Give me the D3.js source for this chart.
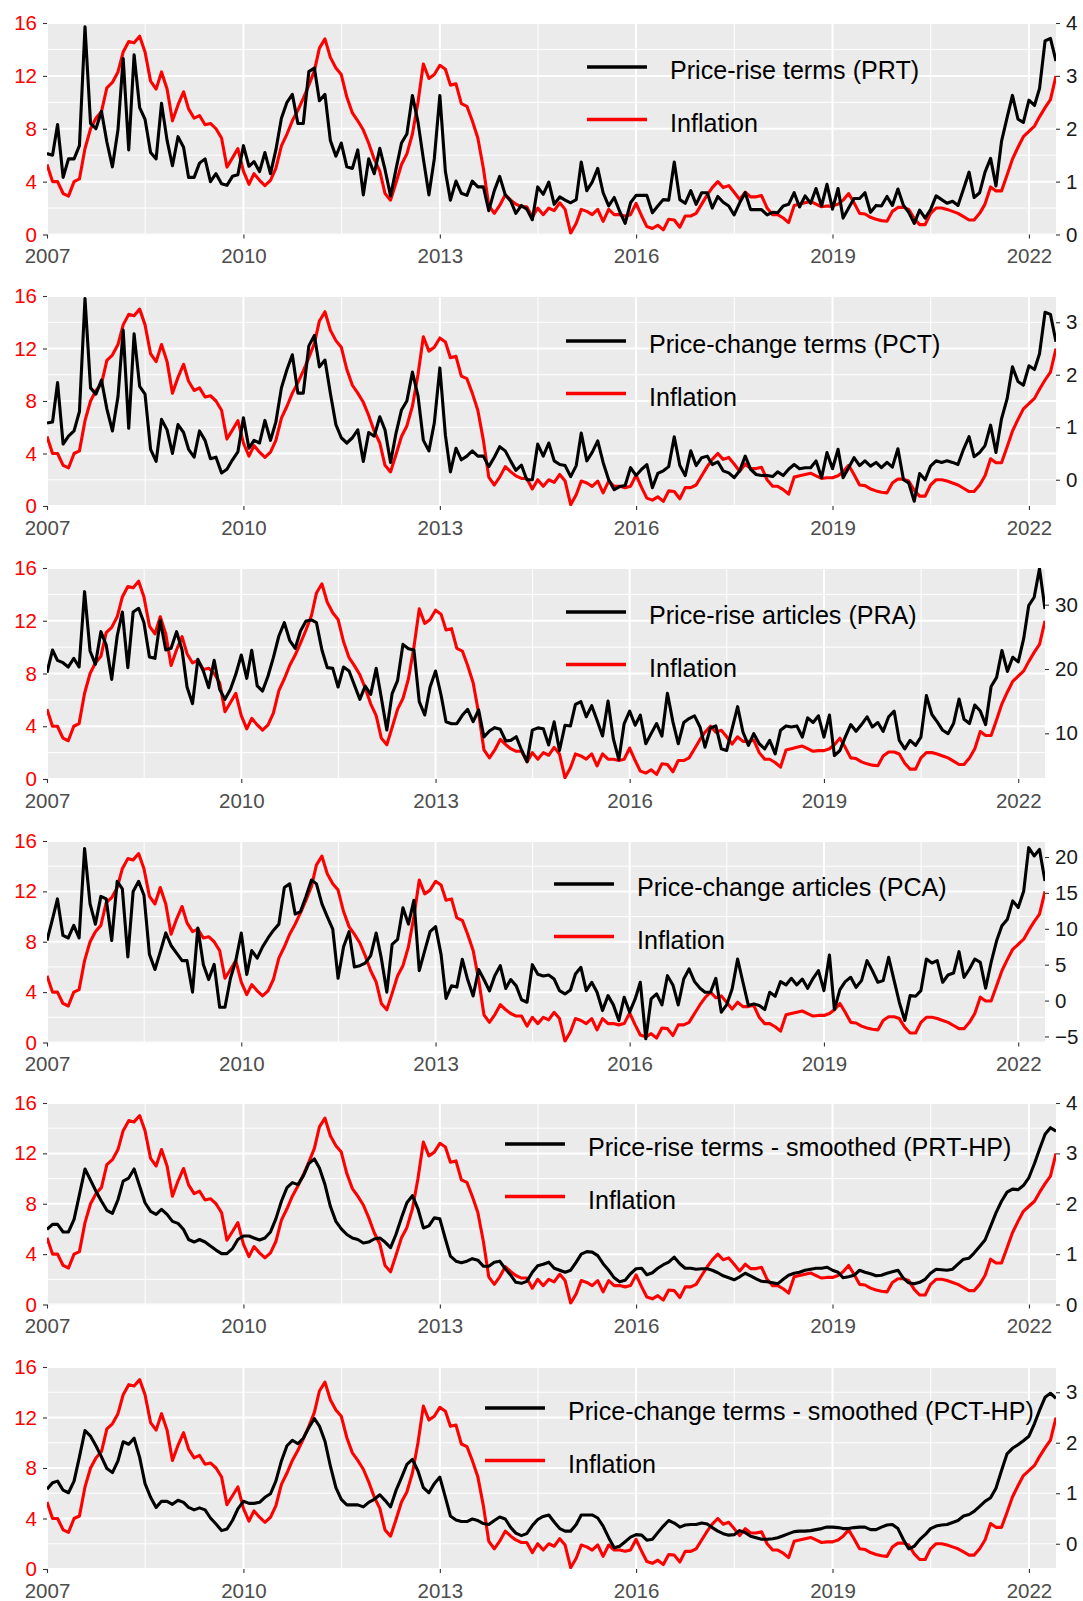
<!DOCTYPE html>
<html>
<head>
<meta charset="utf-8">
<script src="https://cdn.jsdelivr.net/npm/d3@7"></script>
<style>
  body { margin: 0; background: #ffffff; }
  svg { display: block; font-family: "Liberation Sans", Arial, Helvetica, sans-serif; }
</style>
</head>
<body>
<svg id="chart" width="1083" height="1601"></svg>
<script>
// Monthly observations, January 2007 to June 2022
const startMonth = new Date(2007, 0, 1);
const yearTicks = [2007, 2010, 2013, 2016, 2019, 2022];
const leftTicks = [0, 4, 8, 12, 16];
const leftMinor = [2, 6, 10, 14];

// Inflation (left axis, %)
const inflation = [
  5.3, 4.0, 4.0, 3.1, 2.9, 4.0, 4.2, 6.5, 8.0, 8.8,
  9.3, 11.1, 11.5, 12.3, 13.8, 14.6, 14.5, 15.0, 13.8, 11.6,
  11.0, 12.3, 11.0, 8.6, 9.8, 10.8, 9.5, 8.8, 9.0, 8.3,
  8.4, 8.0, 7.3, 5.1, 5.8, 6.5, 4.8, 3.8, 4.6, 4.1,
  3.7, 4.1, 5.0, 6.7, 7.6, 8.6, 9.4, 10.3, 11.3, 12.4,
  14.1, 14.8, 13.4, 12.6, 12.1, 10.4, 9.2, 8.6, 7.9, 6.9,
  5.7, 4.8, 3.1, 2.6, 3.9, 5.3, 6.1, 7.6, 10.0, 12.9,
  11.8, 12.1, 12.8, 12.5, 11.3, 11.4, 9.9, 9.7, 8.6, 7.3,
  5.0, 2.2, 1.6, 2.2, 3.0, 2.6, 2.3, 2.1, 2.1, 1.3,
  2.0, 1.5, 2.0, 1.8, 2.4, 1.9, 0.1, 0.85, 1.9, 1.75,
  1.5, 1.9, 1.0, 1.9, 1.5, 1.5, 1.4, 1.5, 2.35, 1.4,
  0.6, 0.45, 0.7, 0.35, 1.15, 1.1, 0.55, 1.4, 1.4, 1.6,
  2.3, 3.0, 3.55, 4.0, 3.55, 3.7, 3.2, 2.65, 3.2, 2.85,
  2.85, 2.95, 2.0, 1.5, 1.5, 1.25, 0.9, 2.2, 2.3, 2.4,
  2.5, 2.3, 2.1, 2.15, 2.15, 2.3, 2.6, 3.1, 2.4, 1.6,
  1.55, 1.3, 1.15, 1.05, 1.0, 1.75, 2.05, 2.05, 1.9, 1.2,
  0.75, 0.75, 1.6, 2.0, 2.0, 1.9, 1.75, 1.6, 1.35, 1.1,
  1.1, 1.6, 2.3, 3.6, 3.3, 3.3, 4.5, 5.7, 6.6, 7.4,
  7.8, 8.2, 8.9, 9.6, 10.2, 12.0
];

// Price-rise terms (PRT)
const prt = [
  1.53, 1.5, 2.08, 1.08, 1.43, 1.43, 1.68, 3.93, 2.1, 2.0,
  2.33, 1.75, 1.28, 1.98, 3.33, 1.6, 3.4, 2.4, 2.18, 1.55,
  1.43, 2.48, 1.78, 1.3, 1.85, 1.65, 1.08, 1.08, 1.35, 1.43,
  1.0, 1.15, 0.96, 0.93, 1.1, 1.13, 1.68, 1.29, 1.38, 1.19,
  1.55, 1.15, 1.6, 2.2, 2.5, 2.65, 2.1, 2.1, 3.08, 3.15,
  2.53, 2.65, 1.78, 1.48, 1.73, 1.28, 1.25, 1.6, 0.75, 1.43,
  1.15, 1.63, 1.23, 0.73, 1.23, 1.73, 1.9, 2.63, 2.13, 1.43,
  0.75, 1.43, 2.63, 1.19, 0.65, 1.01, 0.78, 0.74, 1.01, 0.9,
  0.9, 0.45, 0.83, 1.1, 0.75, 0.63, 0.4, 0.55, 0.48, 0.28,
  0.9, 0.76, 0.99, 0.57, 0.71, 0.65, 0.6, 0.66, 1.37, 0.83,
  0.99, 1.25, 0.79, 0.54, 0.7, 0.44, 0.21, 0.6, 0.74, 0.74,
  0.74, 0.41, 0.54, 0.66, 0.65, 1.37, 0.66, 0.59, 0.83, 0.57,
  0.79, 0.79, 0.5, 0.72, 0.61, 0.54, 0.37, 0.6, 0.79, 0.47,
  0.47, 0.47, 0.37, 0.42, 0.41, 0.54, 0.57, 0.79, 0.52, 0.73,
  0.59, 0.87, 0.54, 0.95, 0.48, 0.87, 0.31, 0.5, 0.68, 0.68,
  0.79, 0.42, 0.55, 0.54, 0.72, 0.55, 0.86, 0.55, 0.42, 0.21,
  0.46, 0.31, 0.47, 0.73, 0.66, 0.59, 0.63, 0.55, 0.86, 1.18,
  0.7, 0.79, 1.18, 1.44, 0.92, 1.76, 2.21, 2.63, 2.18, 2.12,
  2.54, 2.44, 2.76, 3.66, 3.71, 3.28
];

// Price-change terms (PCT)
const pct = [
  1.08, 1.1, 1.85, 0.68, 0.83, 0.93, 1.3, 3.45, 1.75, 1.63,
  1.9, 1.35, 0.93, 1.58, 2.85, 0.98, 2.78, 1.78, 1.63, 0.58,
  0.35, 1.15, 0.95, 0.5, 1.05, 0.9, 0.58, 0.43, 0.93, 0.75,
  0.4, 0.43, 0.13, 0.2, 0.38, 0.53, 1.18, 0.6, 0.75, 0.7,
  1.13, 0.75, 1.1, 1.75, 2.1, 2.38, 1.65, 1.65, 2.55, 2.75,
  2.15, 2.28, 1.65, 1.05, 0.8, 0.7, 0.8, 0.95, 0.35, 0.9,
  0.83, 1.2, 0.95, 0.33, 0.88, 1.33, 1.5, 2.05, 1.6, 0.75,
  0.55, 1.08, 2.13, 0.85, 0.15, 0.6, 0.38, 0.45, 0.55, 0.45,
  0.45, 0.25, 0.43, 0.63, 0.55, 0.35, 0.18, 0.28, 0.0, 0.0,
  0.68, 0.45, 0.7, 0.36, 0.29, 0.27, 0.06, 0.27, 0.89, 0.36,
  0.52, 0.74, 0.33, 0.0, -0.19, -0.13, -0.11, 0.23, 0.08, 0.2,
  0.29, -0.15, 0.12, 0.17, 0.25, 0.82, 0.27, 0.08, 0.55, 0.27,
  0.42, 0.45, 0.29, 0.34, 0.17, 0.13, 0.04, 0.17, 0.45, 0.2,
  0.1, 0.08, 0.08, 0.06, 0.15, 0.08, 0.2, 0.29, 0.21, 0.23,
  0.23, 0.36, 0.04, 0.52, 0.21, 0.58, 0.04, 0.23, 0.42, 0.27,
  0.36, 0.26, 0.33, 0.23, 0.33, 0.24, 0.59, 0.0, -0.06, -0.41,
  0.12, 0.0, 0.26, 0.36, 0.33, 0.36, 0.33, 0.29, 0.58, 0.82,
  0.44, 0.52, 0.65, 1.04, 0.52, 1.16, 1.54, 2.15, 1.87, 1.8,
  2.17, 2.1, 2.4, 3.19, 3.15, 2.63
];

// Price-rise articles (PRA)
const pra = [
  19.43, 22.95, 21.35, 20.98, 20.31, 21.66, 20.31, 32.02, 22.8, 20.73,
  25.8, 23.73, 18.39, 25.13, 28.86, 20.21, 28.86, 29.43, 27.2, 21.87,
  21.66, 27.56, 22.95, 23.21, 25.8, 22.95, 17.2, 14.61, 21.5, 19.69,
  17.1, 21.35, 16.84, 15.28, 16.84, 19.17, 22.18, 18.55, 22.9, 17.36,
  16.58, 18.91, 21.76, 25.13, 27.2, 24.46, 23.21, 25.91, 27.46, 27.62,
  27.2, 22.95, 20.21, 20.1, 17.2, 20.31, 19.69, 17.51, 15.28, 17.36,
  16.06, 20.1, 15.54, 10.52, 16.17, 18.24, 23.83, 23.16, 22.95, 14.92,
  12.85, 17.2, 19.69, 15.96, 11.81, 11.5, 11.5, 12.8, 13.73, 11.81,
  13.63, 9.43, 10.36, 10.88, 10.62, 8.81, 8.91, 9.48, 7.41, 5.6,
  10.5, 10.85, 10.7, 8.2, 11.78, 7.33, 11.26, 11.15, 14.5, 14.92,
  12.57, 14.29, 12.04, 9.58, 15.03, 9.16, 5.92, 11.52, 13.46, 11.26,
  12.83, 8.38, 9.95, 11.52, 9.58, 16.23, 11.78, 8.38, 11.68, 12.3,
  12.72, 10.99, 7.85, 10.84, 11.15, 7.59, 7.33, 10.73, 14.14, 10.21,
  8.12, 9.95, 8.38, 7.59, 8.9, 6.81, 10.47, 11.15, 10.99, 11.15,
  9.42, 12.41, 11.68, 12.72, 9.42, 12.83, 6.54, 7.33, 9.42, 11.36,
  10.31, 11.36, 12.57, 10.99, 11.68, 10.31, 12.57, 13.46, 8.9, 7.59,
  8.9, 8.12, 9.42, 15.86, 12.93, 11.78, 10.47, 9.95, 11.52, 15.34,
  12.2, 11.52, 14.4, 13.46, 11.36, 17.28, 18.69, 22.88, 19.63, 21.83,
  21.1, 24.76, 29.84, 31.15, 35.6, 29.32
];

// Price-change articles (PCA)
const pca = [
  8.37, 11.35, 14.16, 9.07, 8.72, 10.47, 8.72, 21.18, 13.46, 10.65,
  14.51, 14.16, 8.37, 16.61, 15.56, 6.09, 15.21, 16.61, 14.68, 6.44,
  4.33, 6.79, 9.42, 7.67, 6.61, 5.56, 5.56, 1.18, 10.12, 5.04,
  2.93, 5.04, -0.93, -0.93, 3.11, 5.56, 9.42, 3.63, 6.96, 5.91,
  7.49, 8.72, 9.77, 10.65, 15.74, 16.26, 12.05, 12.4, 14.51, 16.79,
  16.26, 13.46, 11.7, 9.95, 3.11, 7.49, 9.6, 4.68, 4.86, 5.21,
  6.26, 9.42, 5.91, 1.18, 7.84, 8.54, 12.93, 10.65, 13.98, 4.16,
  6.96, 9.6, 10.3, 6.44, 0.3, 2.05, 1.88, 5.74, 2.93, 0.65,
  4.33, 2.93, 1.35, 3.46, 4.86, 1.7, 2.93, 2.05, 0.12, -0.23,
  5.0, 3.66, 3.42, 3.56, 3.0, 1.39, 0.93, 1.48, 3.7, 4.63,
  1.39, 2.55, 1.16, -1.39, 0.69, -0.6, -2.78, 0.46, -1.62, 0.23,
  2.55, -5.32, 0.23, 0.93, -0.6, 3.47, 2.18, -0.6, 3.0, 4.4,
  2.64, 1.71, 1.16, 1.16, 3.1, -1.62, -0.6, 1.62, 5.79, 2.55,
  -0.69, -0.46, -0.69, -1.25, 1.16, 0.6, 2.64, 2.18, 3.1, 2.18,
  3.0, 1.71, 3.1, 4.17, 1.39, 6.34, -1.25, 1.53, 2.64, 3.24,
  1.85, 2.78, 5.56, 4.17, 2.55, 2.78, 6.02, 2.78, -0.23, -2.78,
  0.69, 0.6, 1.39, 5.79, 5.23, 5.56, 2.55, 3.56, 3.84, 6.81,
  3.24, 4.4, 5.79, 5.32, 1.71, 5.32, 8.33, 10.42, 11.34, 13.89,
  12.96, 15.28, 21.3, 20.14, 21.06, 16.67
];

// Price-rise terms, HP-smoothed (PRT-HP)
const prtHp = [
  1.49, 1.59, 1.59, 1.44, 1.44, 1.69, 2.18, 2.69, 2.47, 2.25,
  2.05, 1.87, 1.81, 2.08, 2.45, 2.51, 2.69, 2.35, 2.02, 1.85,
  1.79, 1.89, 1.79, 1.65, 1.61, 1.49, 1.29, 1.24, 1.29, 1.24,
  1.16, 1.08, 1.01, 1.01, 1.11, 1.29, 1.36, 1.36, 1.32, 1.28,
  1.32, 1.44, 1.7, 2.05, 2.32, 2.42, 2.38, 2.55, 2.8, 2.89,
  2.71, 2.38, 1.95, 1.65, 1.5, 1.39, 1.32, 1.29, 1.22, 1.24,
  1.3, 1.32, 1.24, 1.13, 1.39, 1.72, 2.02, 2.16, 1.9, 1.52,
  1.56, 1.72, 1.7, 1.3, 0.96, 0.86, 0.83, 0.86, 0.91, 0.88,
  0.76, 0.76, 0.84, 0.86, 0.71, 0.58, 0.44, 0.42, 0.46, 0.64,
  0.77, 0.8, 0.84, 0.72, 0.68, 0.64, 0.68, 0.84, 1.0, 1.05,
  1.04, 0.97, 0.81, 0.68, 0.53, 0.45, 0.48, 0.61, 0.71, 0.72,
  0.59, 0.63, 0.72, 0.79, 0.84, 0.94, 0.81, 0.72, 0.72, 0.7,
  0.71, 0.71, 0.68, 0.63, 0.57, 0.53, 0.49, 0.55, 0.62, 0.57,
  0.51, 0.46, 0.45, 0.43, 0.41, 0.5, 0.58, 0.62, 0.64, 0.68,
  0.7, 0.72, 0.72, 0.74, 0.68, 0.64, 0.53, 0.55, 0.58, 0.68,
  0.64, 0.61, 0.57, 0.58, 0.62, 0.65, 0.68, 0.52, 0.43, 0.41,
  0.44, 0.5, 0.62, 0.7, 0.69, 0.68, 0.7, 0.8, 0.9, 0.92,
  1.02, 1.15, 1.28, 1.55, 1.82, 2.05, 2.23, 2.29, 2.28, 2.36,
  2.52, 2.8, 3.08, 3.38, 3.51, 3.44
];

// Price-change terms, HP-smoothed (PCT-HP)
const pctHp = [
  1.08, 1.21, 1.24, 1.06, 1.01, 1.24, 1.72, 2.24, 2.13, 1.94,
  1.72, 1.49, 1.41, 1.64, 2.02, 1.97, 2.09, 1.71, 1.19, 0.92,
  0.72, 0.84, 0.84, 0.78, 0.86, 0.82, 0.72, 0.67, 0.71, 0.67,
  0.51, 0.39, 0.26, 0.29, 0.46, 0.69, 0.84, 0.8, 0.8, 0.82,
  0.92, 0.99, 1.24, 1.64, 1.94, 2.05, 1.98, 2.09, 2.3, 2.48,
  2.33, 2.03, 1.54, 1.11, 0.88, 0.77, 0.77, 0.77, 0.73, 0.82,
  0.88, 0.97, 0.86, 0.73, 1.05, 1.31, 1.57, 1.67, 1.44, 1.11,
  1.01, 1.19, 1.32, 0.92, 0.55, 0.47, 0.44, 0.44, 0.49, 0.46,
  0.4, 0.38, 0.46, 0.53, 0.49, 0.32, 0.21, 0.16, 0.2, 0.36,
  0.48, 0.54, 0.57, 0.43, 0.3, 0.25, 0.25, 0.38, 0.57, 0.57,
  0.57, 0.51, 0.35, 0.12, -0.08, -0.05, 0.04, 0.13, 0.18, 0.17,
  0.07, 0.09, 0.22, 0.35, 0.46, 0.41, 0.33, 0.37, 0.38, 0.38,
  0.41, 0.39, 0.32, 0.25, 0.2, 0.17, 0.18, 0.26, 0.22, 0.15,
  0.12, 0.09, 0.09, 0.1, 0.12, 0.16, 0.2, 0.24, 0.25, 0.25,
  0.26, 0.28, 0.3, 0.33, 0.33, 0.32, 0.3, 0.3, 0.32, 0.33,
  0.33, 0.28, 0.28, 0.33, 0.37, 0.38, 0.3, 0.08, -0.1, -0.05,
  0.08, 0.18, 0.3, 0.35, 0.37, 0.38, 0.42, 0.46, 0.55, 0.58,
  0.64, 0.74, 0.84, 0.91, 1.1, 1.45, 1.78, 1.89, 1.96, 2.04,
  2.13, 2.38, 2.64, 2.9, 2.98, 2.88
];

// Secondary-axis ranges (value at the bottom and top of each panel) and ticks
const prtRange = [0, 4],         prtTicks = [0, 1, 2, 3, 4];
const pctRange = [-0.5, 3.5],    pctTicks = [0, 1, 2, 3];
const praRange = [2.9, 35.7],    praTicks = [10, 20, 30];
const pcaRange = [-5.84, 22.23], pcaTicks = [-5, 0, 5, 10, 15, 20];

const series = [
  { values: prt,   label: "Price-rise terms (PRT)",                 range: prtRange, ticks: prtTicks },
  { values: pct,   label: "Price-change terms (PCT)",               range: pctRange, ticks: pctTicks },
  { values: pra,   label: "Price-rise articles (PRA)",              range: praRange, ticks: praTicks },
  { values: pca,   label: "Price-change articles (PCA)",            range: pcaRange, ticks: pcaTicks },
  { values: prtHp, label: "Price-rise terms - smoothed (PRT-HP)",   range: prtRange, ticks: prtTicks },
  { values: pctHp, label: "Price-change terms - smoothed (PCT-HP)", range: pctRange, ticks: pctTicks }
];

// Panel geometry
const layout = [
  { top: 23,   bottom: 234.5,  right: 1056, legendX: 587, legendY: 67 },
  { top: 296,  bottom: 506,    right: 1056, legendX: 566, legendY: 341 },
  { top: 568,  bottom: 779,    right: 1045, legendX: 566, legendY: 612 },
  { top: 841,  bottom: 1042.5, right: 1045, legendX: 554, legendY: 884 },
  { top: 1103, bottom: 1304.5, right: 1056, legendX: 505, legendY: 1144 },
  { top: 1367, bottom: 1569,   right: 1056, legendX: 485, legendY: 1408 }
];
const panelLeft = 47;
const legendGap = 52.5;
const lineWidth = 3.1;
const fontStack = "'Liberation Sans', Arial, Helvetica, sans-serif";

const svg = d3.select("#chart");
const defs = svg.append("defs");
const months = inflation.map((_, i) => d3.timeMonth.offset(startMonth, i));
const yearDates = yearTicks.map(y => new Date(y, 0, 1));
const minorDates = yearDates.slice(0, -1).map((d, i) => new Date((+d + +yearDates[i + 1]) / 2));

series.forEach((s, idx) => {
  const L = layout[idx];
  const x = d3.scaleTime().domain([months[0], months[months.length - 1]]).range([panelLeft, L.right]);
  const yLeft = d3.scaleLinear().domain([0, 16]).range([L.bottom, L.top]);
  const yRight = d3.scaleLinear().domain(s.range).range([L.bottom, L.top]);

  const clipId = "panel-clip-" + idx;
  defs.append("clipPath").attr("id", clipId).append("rect")
    .attr("x", panelLeft).attr("y", L.top)
    .attr("width", L.right - panelLeft).attr("height", L.bottom - L.top);

  const g = svg.append("g");
  g.append("rect")
    .attr("x", panelLeft).attr("y", L.top)
    .attr("width", L.right - panelLeft).attr("height", L.bottom - L.top)
    .attr("fill", "#EBEBEB");

  const grid = g.append("g").attr("clip-path", `url(#${clipId})`).attr("stroke", "#ffffff");
  grid.selectAll(".hminor").data(leftMinor).join("line")
    .attr("x1", panelLeft).attr("x2", L.right)
    .attr("y1", d => yLeft(d)).attr("y2", d => yLeft(d))
    .attr("stroke-width", 1.0);
  grid.selectAll(".vminor").data(minorDates).join("line")
    .attr("x1", d => x(d)).attr("x2", d => x(d))
    .attr("y1", L.top).attr("y2", L.bottom)
    .attr("stroke-width", 1.0);
  grid.selectAll(".hmajor").data(leftTicks).join("line")
    .attr("x1", panelLeft).attr("x2", L.right)
    .attr("y1", d => yLeft(d)).attr("y2", d => yLeft(d))
    .attr("stroke-width", 2.0);
  grid.selectAll(".vmajor").data(yearDates).join("line")
    .attr("x1", d => x(d)).attr("x2", d => x(d))
    .attr("y1", L.top).attr("y2", L.bottom)
    .attr("stroke-width", 2.0);

  const lines = g.append("g").attr("clip-path", `url(#${clipId})`)
    .attr("fill", "none").attr("stroke-width", lineWidth)
    .attr("stroke-linejoin", "round").attr("stroke-linecap", "butt");
  lines.append("path")
    .attr("d", d3.line().x((d, i) => x(months[i])).y(d => yLeft(d))(inflation))
    .attr("stroke", "#FF0000");
  lines.append("path")
    .attr("d", d3.line().x((d, i) => x(months[i])).y(d => yRight(d))(s.values))
    .attr("stroke", "#000000");

  // Axes
  const styleAxis = (sel, color) => {
    sel.select(".domain").remove();
    sel.selectAll(".tick line").attr("stroke", "#333333").attr("stroke-width", 1.1);
    sel.selectAll(".tick text").attr("fill", color).attr("font-size", "20.5px")
      .attr("font-family", fontStack);
  };

  g.append("g").attr("transform", `translate(${panelLeft},0)`)
    .call(d3.axisLeft(yLeft).tickValues(leftTicks).tickFormat(d3.format("d")).tickSize(4).tickPadding(6))
    .call(sel => styleAxis(sel, "#FF0000"));

  g.append("g").attr("transform", `translate(${L.right},0)`)
    .call(d3.axisRight(yRight).tickValues(s.ticks).tickFormat(d3.format("d")).tickSize(4).tickPadding(6))
    .call(sel => styleAxis(sel, "#1A1A1A"));

  g.append("g").attr("transform", `translate(0,${L.bottom})`)
    .call(d3.axisBottom(x).tickValues(yearDates).tickFormat(d3.timeFormat("%Y")).tickSize(4).tickPadding(10))
    .call(sel => styleAxis(sel, "#4D4D4D"));

  // Legend
  const legendItems = [
    { label: s.label, color: "#000000" },
    { label: "Inflation", color: "#FF0000" }
  ];
  const lg = g.append("g");
  legendItems.forEach((item, k) => {
    const ly = L.legendY + k * legendGap;
    lg.append("line")
      .attr("x1", L.legendX).attr("x2", L.legendX + 60)
      .attr("y1", ly).attr("y2", ly)
      .attr("stroke", item.color).attr("stroke-width", 3.4);
    lg.append("text")
      .attr("x", L.legendX + 83).attr("y", ly + 3)
      .attr("dominant-baseline", "central")
      .attr("font-size", "25.1px").attr("fill", "#000000")
      .attr("font-family", fontStack)
      .text(item.label);
  });
});
</script>
</body>
</html>
